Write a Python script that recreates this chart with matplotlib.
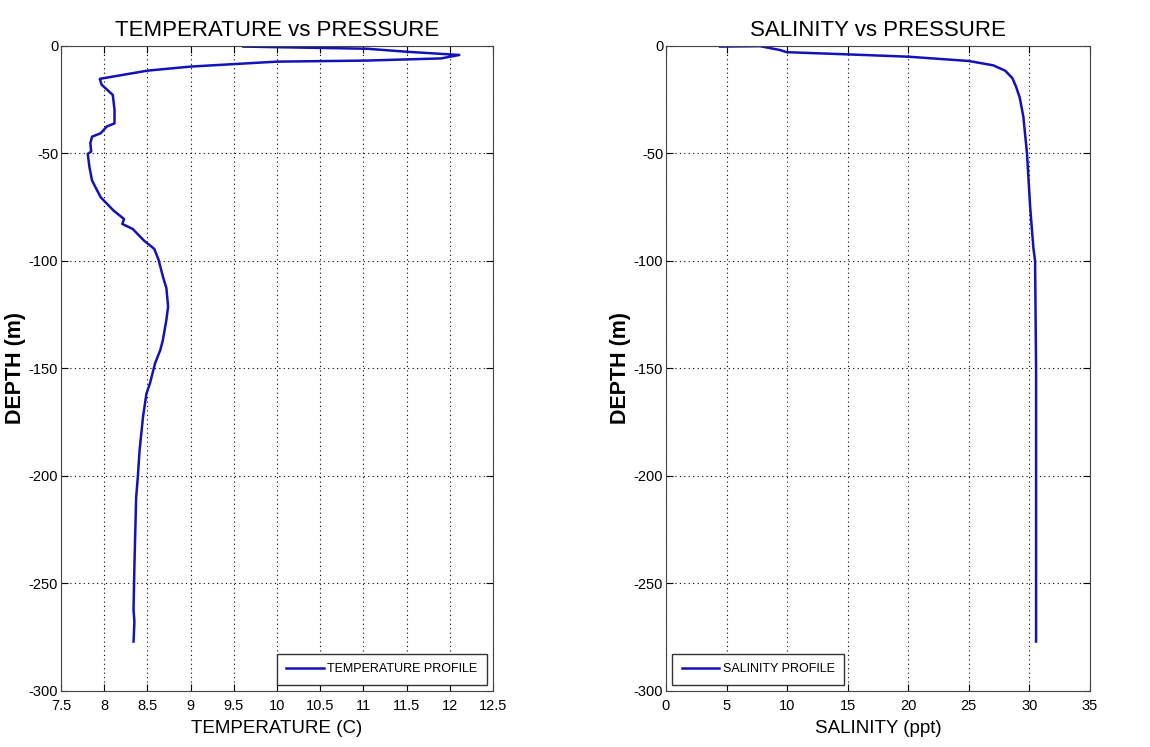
import matplotlib
matplotlib.use('Agg')
import matplotlib.pyplot as plt

# temperature profile (C) vs depth (m)
temp = [9.61, 11.04, 11.50, 12.11, 11.90, 11.04, 10.0, 9.0, 8.5, 7.95,
        7.97, 8.10, 8.12, 8.12, 8.03, 7.96, 7.86, 7.84, 7.85, 7.81, 7.83,
        7.86, 7.96, 8.11, 8.23, 8.21, 8.33, 8.46, 8.58, 8.63, 8.68, 8.72,
        8.74, 8.72, 8.68, 8.65, 8.59, 8.53, 8.49, 8.45, 8.41, 8.39, 8.37,
        8.35, 8.34, 8.35, 8.34]
temp_depth = [-0.3, -1.3, -2.7, -4.2, -5.8, -6.8, -7.3, -9.6, -11.5, -15.3,
              -18.0, -22.8, -29.8, -36.0, -37.5, -40.6, -42.2, -45.2, -49.1,
              -50.2, -56.4, -62.6, -70.4, -76.6, -80.5, -82.8, -85.1, -90.5,
              -94.4, -99.5, -107.3, -112.6, -121.2, -127.4, -136.7, -141.4,
              -147.5, -156.9, -161.6, -172.4, -188.0, -200.3, -210.2, -242.0,
              -262.0, -268.0, -277.0]

# salinity profile (ppt) vs depth (m)
sal = [4.46, 7.76, 9.41, 9.97, 14.9, 20.0, 25.0, 27.0, 28.0, 28.6, 28.9,
       29.2, 29.5, 29.8, 30.06, 30.33, 30.47, 30.55, 30.55, 30.55]
sal_depth = [-0.3, -0.1, -1.9, -2.9, -3.9, -5.0, -7.0, -9.0, -11.5, -15.0,
             -19.0, -24.0, -32.9, -49.9, -74.7, -94.0, -100.0, -150.0,
             -200.0, -277.0]

temp_ticks = [7.5, 8, 8.5, 9, 9.5, 10, 10.5, 11, 11.5, 12, 12.5]
sal_ticks = [0, 5, 10, 15, 20, 25, 30, 35]
depth_ticks = [-300, -250, -200, -150, -100, -50, 0]

plt.rcParams['font.family'] = ['Liberation Sans', 'DejaVu Sans']
plt.rcParams['axes.unicode_minus'] = False
line_col = '#1212b8'

fig = plt.figure(figsize=(11.5, 7.47), dpi=100)
ax1 = fig.add_axes([0.053, 0.075, 0.3757, 0.8635])
ax2 = fig.add_axes([0.5791, 0.075, 0.3687, 0.8635])

panels = [
    (ax1, temp, temp_depth, temp_ticks, 'TEMPERATURE vs PRESSURE',
     'TEMPERATURE (C)', 'TEMPERATURE PROFILE', 'lower right', -0.081),
    (ax2, sal, sal_depth, sal_ticks, 'SALINITY vs PRESSURE',
     'SALINITY (ppt)', 'SALINITY PROFILE', 'lower left', -0.0825),
]

for ax, x, y, xt, title, xlab, lab, loc, ylx in panels:
    ax.plot(x, y, color=line_col, lw=1.8, label=lab)
    ax.set_xlim(xt[0], xt[-1])
    ax.set_ylim(-300, 0)
    ax.set_xticks(xt)
    ax.set_xticklabels(['%g' % v for v in xt])
    ax.set_yticks(depth_ticks)
    ax.grid(True, color='black', linestyle=(0, (1, 3)), linewidth=0.8)
    ax.tick_params(direction='in', top=True, right=True, length=5,
                   labelsize=10.5)
    ax.tick_params(axis='x', pad=6)
    ax.tick_params(axis='y', pad=2)
    for s in ax.spines.values():
        s.set_color('#444444')
    ax.set_title(title, fontsize=16, pad=7)
    ax.set_xlabel(xlab, fontsize=13.5, labelpad=5)
    ax.set_ylabel('DEPTH (m)', fontsize=15.5, fontweight='bold')
    ax.yaxis.set_label_coords(ylx, 0.5)
    leg = ax.legend(loc=loc, fontsize=9, fancybox=False, framealpha=1,
                    borderaxespad=0.5, handlelength=3.0, handletextpad=0.3,
                    borderpad=0.75)
    leg.get_frame().set_edgecolor('#333333')
    leg.get_frame().set_linewidth(1.0)

fig.savefig('out.png', dpi=100)
